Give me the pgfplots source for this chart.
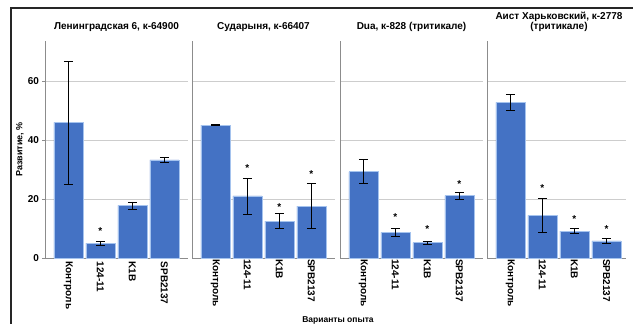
\documentclass[border=0pt]{standalone}
\usepackage{pgfplots}
\pgfplotsset{compat=1.18}
\usepackage{fontspec}
\setmainfont{Liberation Sans}
\definecolor{barblue}{RGB}{68,114,196}
\definecolor{baredge}{RGB}{165,195,238}
\definecolor{gridgray}{RGB}{205,205,205}
\definecolor{axgray}{RGB}{140,140,140}
\newcommand{\lblfont}{\bfseries\fontsize{10}{10}\selectfont}
\pgfplotsset{
  panel/.style={
    scale only axis, width=143pt, height=217pt,
    xmin=-0.73, xmax=3.74, ymin=0, ymax=73.5,
    axis x line*=bottom, axis y line*=left,
    axis line style={axgray, line width=0.8pt},
    ymajorgrids, grid style={gridgray, line width=0.6pt},
    ytick={0,20,40,60}, xtick={0,1,2,3},
    xticklabels={Контроль,124-11,K1B,SPB2137},
    xticklabel style={rotate=-90, anchor=west, font=\lblfont, inner sep=1pt},
    xtick style={draw=none},
    title style={font=\lblfont, align=center},
    /pgf/number format/assume math mode=true,
    clip=false,
  },
  noy/.style={yticklabels={}, ytick style={draw=none}},
  bars/.style={ybar, bar width=29pt, fill=barblue, draw=baredge, line width=0.6pt,
    error bars/y dir=both, error bars/y explicit,
    error bars/error bar style={black, line width=0.7pt},
    error bars/error mark options={black, rotate=90, mark size=4.5pt, line width=0.7pt}},
  stars/.style={draw=none, mark=none, nodes near coords={*},
    every node near coord/.append style={font=\lblfont, anchor=center, yshift=-2pt, inner sep=0pt}},
}
\begin{document}
\begin{tikzpicture}
\path[use as bounding box] (0,0) rectangle (633pt,324pt);
\draw[line width=1.3pt, black!85] (11pt,0) -- (11pt,316pt) -- (633pt,316pt);

\begin{axis}[panel, at={(45pt,66pt)}, anchor=south west,
  title={Ленинградская 6, к-64900},
  ylabel={Развитие, \%},
  ylabel style={font=\bfseries\fontsize{9}{9}\selectfont, at={(axis description cs:-0.175,0.5)}, anchor=center},
  yticklabel style={font=\lblfont},
  ytick style={axgray, line width=0.6pt}, major tick length=2.5pt, tick align=outside]
\addplot[bars] coordinates {(0,45.9) +- (0,20.8) (1,5.0) +- (0,0.65) (2,17.8) +- (0,1.2) (3,33.25) +- (0,0.75)};
\addplot[stars] coordinates {(1,9.9)};
\end{axis}

\begin{axis}[panel, noy, at={(192pt,66pt)}, anchor=south west,
  title={Сударыня, к-66407}]
\addplot[bars] coordinates {(0,45.0) +- (0,0.15) (1,21.0) +- (0,6.05) (2,12.45) +- (0,2.55) (3,17.6) +- (0,7.6)};
\addplot[stars] coordinates {(1,31.3) (2,18.0) (3,29.1)};
\end{axis}

\begin{axis}[panel, noy, at={(340pt,66pt)}, anchor=south west,
  title={Dua, к-828 (тритикале)}]
\addplot[bars] coordinates {(0,29.2) +- (0,4.05) (1,8.7) +- (0,1.3) (2,5.2) +- (0,0.55) (3,21.1) +- (0,1.1)};
\addplot[stars] coordinates {(1,14.7) (2,10.6) (3,25.8)};
\end{axis}

\begin{axis}[panel, noy, width=139pt, xmax=3.61, at={(487pt,66pt)}, anchor=south west,
  title={Аист Харьковский, к-2778\\(тритикале)}, title style={xshift=2.5pt}]
\addplot[bars] coordinates {(0,52.75) +- (0,2.75) (1,14.4) +- (0,5.8) (2,9.1) +- (0,0.9) (3,5.8) +- (0,0.85)};
\addplot[stars] coordinates {(1,24.5) (2,14.0) (3,10.6)};
\end{axis}

\node[font=\bfseries\fontsize{8.5}{9}\selectfont] at (338pt,4pt) {Варианты опыта};
\end{tikzpicture}
\end{document}
